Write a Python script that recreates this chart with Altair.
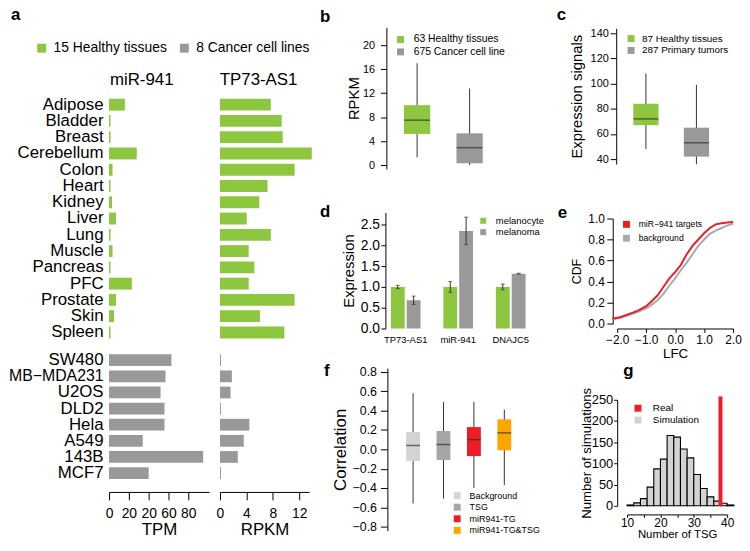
import altair as alt
import pandas as pd

# ---------------- data ----------------
tissues = ["Adipose", "Bladder", "Breast", "Cerebellum", "Colon", "Heart", "Kidney",
           "Liver", "Lung", "Muscle", "Pancreas", "PFC", "Prostate", "Skin", "Spleen"]
mir941_tissue_tpm = [16, 1.5, 1.5, 28, 3.5, 1.5, 3, 7, 1.5, 3.5, 1.5, 23, 7, 5, 1.5]
tp73as1_tissue_rpkm = [7.7, 9.35, 9.5, 13.9, 11.3, 7.2, 5.95, 4.05, 7.7, 4.35, 5.2, 4.35, 11.3, 6.05, 9.75]
cell_lines = ["SW480", "MB\u2212MDA231", "U2OS", "DLD2", "Hela", "A549", "143B", "MCF7"]
mir941_cell_tpm = [63, 57, 52, 56, 56, 34, 95, 40]
tp73as1_cell_rpkm = [0.15, 1.8, 1.6, 0.15, 4.45, 3.6, 2.7, 0.15]
a_groups = ["15 Healthy tissues", "8 Cancer cell lines"]
a_titles = ["miR-941", "TP73-AS1"]

b_groups = ["63 Healthy tissues", "675 Cancer cell line"]
b_low = [1.3, 0.0]
b_q1 = [5.2, 0.3]
b_med = [7.5, 2.9]
b_q3 = [10.0, 5.3]
b_high = [17.0, 12.8]

c_groups = ["87 Healthy tissues", "287 Primary tumors"]
c_low = [48, 36]
c_q1 = [67, 42]
c_med = [72, 53]
c_q3 = [84, 65]
c_high = [108, 99]

d_genes = ["TP73-AS1", "miR-941", "DNAJC5"]
d_conditions = ["melanocyte", "melanoma"]
d_melanocyte = [1.0, 1.0, 1.0]
d_melanocyte_err = [0.04, 0.13, 0.07]
d_melanoma = [0.68, 2.35, 1.32]
d_melanoma_err = [0.10, 0.33, 0.01]

e_series = ["miR\u2212941 targets", "background"]
e_lfc = [-2.17, -1.9, -1.6, -1.3, -1.0, -0.8, -0.6, -0.4, -0.2, 0.0,
         0.2, 0.4, 0.6, 0.8, 1.0, 1.2, 1.4, 1.6, 1.8, 2.0]
e_targets = [0.045, 0.06, 0.09, 0.12, 0.165, 0.215, 0.27, 0.35, 0.43, 0.49,
             0.56, 0.66, 0.74, 0.80, 0.86, 0.91, 0.945, 0.955, 0.962, 0.968]
e_background = [0.04, 0.055, 0.08, 0.11, 0.145, 0.18, 0.225, 0.285, 0.36, 0.43,
                0.51, 0.58, 0.66, 0.74, 0.80, 0.855, 0.885, 0.91, 0.935, 0.95]

f_groups = ["Background", "TSG", "miR941-TG", "miR941-TG&TSG"]
f_low = [-0.56, -0.51, -0.40, -0.37]
f_q1 = [-0.12, -0.11, -0.07, -0.01]
f_med = [0.04, 0.05, 0.10, 0.17]
f_q3 = [0.18, 0.19, 0.23, 0.31]
f_high = [0.58, 0.49, 0.49, 0.41]

g_kinds = ["Real", "Simulation"]
g_bin_start = [10, 12, 14, 16, 18, 20, 22, 24, 26, 28, 30, 32, 34, 36, 38, 40]
g_bin_end = [12, 14, 16, 18, 20, 22, 24, 26, 28, 30, 32, 34, 36, 38, 40, 42]
g_counts = [2, 7, 17, 44, 87, 110, 166, 162, 134, 113, 74, 41, 21, 11, 6, 2]
g_real = [38]
g_real_top = [258]

# ---------------- styling helpers ----------------
GREEN = "#8dc63f"
GRAY = "#999999"
LIGHT = "#d3d3d3"
RED = "#ee1c25"
ORANGE = "#ffa500"
DARK = "#333333"
W, H = 741, 535


def px(v):
    return v - 8


def _axis(orient, offset, values, title, fs, tfs, tick, pad, tpad, fmt, extra):
    d = dict(orient=orient, offset=offset, labelFontSize=fs,
             tickSize=tick, labelPadding=pad, domainColor="black", tickColor="black",
             labelColor="black", grid=False, labelOverlap=False, labelFlush=False,
             labelBound=False, domainWidth=1, tickWidth=1, minExtent=0)
    if values is not None:
        d["values"] = values
    if title:
        d.update(title=title, titleFontSize=tfs, titlePadding=tpad,
                 titleFontWeight="normal", titleColor="black")
    else:
        d.update(title=None)
    if fmt:
        d["format"] = fmt
    d.update(extra)
    return alt.Axis(**d)


def left_axis(x_page, values, title=None, fs=11, tfs=15, tick=6, pad=3, tpad=4, fmt=None, **extra):
    extra.setdefault("titleBaseline", "alphabetic")
    return _axis("left", -(x_page - 8), values, title, fs, tfs, tick, pad, tpad, fmt, extra)


def bottom_axis(y_page, values, title=None, fs=11, tfs=15, tick=6, pad=3, tpad=2, fmt=None, **extra):
    return _axis("bottom", (y_page - 8) - H, values, title, fs, tfs, tick, pad, tpad, fmt, extra)


def leg(x, y, fs, sym, offset, rowpad=1, direction="vertical", colpad=10, stroke=0):
    return alt.Legend(title=None, orient="none", legendX=px(x), legendY=px(y),
                      direction=direction, symbolType="square", symbolSize=sym * sym,
                      symbolStrokeWidth=stroke, labelFontSize=fs, labelOffset=offset,
                      rowPadding=rowpad, columnPadding=colpad, labelColor="black",
                      padding=0, labelLimit=400)


# ---------------- panel a ----------------
a_h = pd.DataFrame({"name": tissues, "mir": mir941_tissue_tpm, "tp": tp73as1_tissue_rpkm,
                    "group": a_groups[0]})
a_c = pd.DataFrame({"name": cell_lines, "mir": mir941_cell_tpm, "tp": tp73as1_cell_rpkm,
                    "group": a_groups[1]})

a_color = alt.Color("group:N", scale=alt.Scale(domain=a_groups, range=[GREEN, GRAY]),
                    legend=leg(35, 39, 14, 9, 5, direction="horizontal", colpad=10))

name_axis = alt.Axis(orient="left", offset=-(110 - 8), domain=False, ticks=False, tickSize=0,
                     labelPadding=6,
                     labelFontSize={"condition": {"test": "indexof(datum.label, 'MDA') >= 0",
                                                  "value": 16}, "value": 17},
                     labelColor="black", title=None,
                     grid=False, labelOverlap=False, labelLimit=300, minExtent=0)

y_h = alt.Y("name:N", sort=tissues,
            scale=alt.Scale(domain=tissues, range=[px(94.8), px(341.2)],
                            paddingInner=0.27, paddingOuter=0.135),
            axis=name_axis)
y_c = alt.Y("name:N", sort=cell_lines,
            scale=alt.Scale(domain=cell_lines, range=[px(352.9), px(483.1)],
                            paddingInner=0.27, paddingOuter=0.135),
            axis=name_axis)
y_h_noax = alt.Y("name:N", sort=tissues,
                 scale=alt.Scale(domain=tissues, range=[px(94.8), px(341.2)],
                                 paddingInner=0.27, paddingOuter=0.135), axis=None)
y_c_noax = alt.Y("name:N", sort=cell_lines,
                 scale=alt.Scale(domain=cell_lines, range=[px(352.9), px(483.1)],
                                 paddingInner=0.27, paddingOuter=0.135), axis=None)

mir_scale = alt.Scale(domain=[0, 101], range=[px(110), px(211)], nice=False, zero=False)
tp_scale = alt.Scale(domain=[0, 13.5], range=[px(222), px(312)], nice=False, zero=False)

mir_axis = bottom_axis(494, [0, 20, 40, 60, 80], "TPM", fs=14, tfs=17, tick=8, pad=7, tpad=1,
                       labelExpr="datum.value == 40 ? '20' : datum.label")
tp_axis = bottom_axis(494, [0, 4, 8, 12], "RPKM", fs=14, tfs=17, tick=8, pad=7, tpad=1)

mir_h = alt.Chart(a_h).mark_bar().encode(
    x=alt.X("mir:Q", scale=mir_scale, axis=None), y=y_h, color=a_color)
mir_c = alt.Chart(a_c).mark_bar().encode(
    x=alt.X("mir:Q", scale=mir_scale, axis=mir_axis), y=y_c, color=a_color)
tp_h = alt.Chart(a_h).mark_bar().encode(
    x=alt.X("tp:Q", scale=tp_scale, axis=None), y=y_h_noax, color=a_color)
tp_c = alt.Chart(a_c).mark_bar().encode(
    x=alt.X("tp:Q", scale=tp_scale, axis=tp_axis), y=y_c_noax, color=a_color)

panel_a = alt.layer(mir_h, mir_c, tp_h, tp_c).resolve_scale(x="independent", y="independent")


# ---------------- box panels (b, c, f) ----------------
def box_panel(groups, low, q1, med, q3, high, colors, x_range, pin, y_dom, y_range, yaxis, legend, box_w):
    df = pd.DataFrame({"group": groups, "low": low, "q1": q1, "med": med, "q3": q3, "high": high})
    xs = alt.X("group:N", sort=groups,
               scale=alt.Scale(domain=groups, range=x_range, paddingInner=pin, paddingOuter=pin / 2),
               axis=None)
    ysc = alt.Scale(domain=y_dom, range=y_range, nice=False, zero=False)
    col = alt.Color("group:N", scale=alt.Scale(domain=groups, range=colors), legend=legend)
    base = alt.Chart(df)
    whisk = base.mark_rule(color=DARK, strokeWidth=1).encode(
        x=xs, y=alt.Y("low:Q", scale=ysc, axis=yaxis), y2="high:Q")
    box = base.mark_bar().encode(
        x=xs, y=alt.Y("q1:Q", scale=ysc, axis=yaxis), y2="q3:Q", color=col)
    medl = base.mark_tick(color=DARK, thickness=1.5, size=box_w).encode(
        x=xs, y=alt.Y("med:Q", scale=ysc, axis=yaxis))
    return alt.layer(whisk, box, medl)


panel_b = box_panel(
    b_groups, b_low, b_q1, b_med, b_q3, b_high, [GREEN, GRAY],
    [px(394.5), px(500.5)], 0.5, [-0.66, 23], [px(168), px(25)],
    left_axis(390, [0, 4, 8, 12, 16, 20], "RPKM", fs=11, tfs=15, tick=6, pad=6, tpad=4),
    leg(399, 32, 10.5, 7, 8, rowpad=1.5), 26)

panel_c = box_panel(
    c_groups, c_low, c_q1, c_med, c_q3, c_high, [GREEN, GRAY],
    [px(626.5), px(728.5)], 0.5, [36.1, 143.9], [px(163), px(26)],
    left_axis(622, [40, 60, 80, 100, 120, 140], "Expression signals", fs=11, tfs=15,
              tick=6, pad=2, tpad=9),
    leg(632, 31.3, 10, 7, 6, rowpad=2), 25)

panel_f = box_panel(
    f_groups, f_low, f_q1, f_med, f_q3, f_high, [LIGHT, "#a6a6a6", RED, ORANGE],
    [px(401.6), px(524.4)], 0.544, [-0.84, 0.84], [px(533), px(369)],
    left_axis(391, [-0.8, -0.6, -0.4, -0.2, 0.0, 0.2, 0.4, 0.6, 0.8], "Correlation",
              fs=12.5, tfs=17, tick=7, pad=4, tpad=7, fmt=".1f"),
    leg(457, 493.2, 9, 7, 8, rowpad=1.7), 14)

# ---------------- panel d ----------------
d_df = pd.DataFrame({
    "gene": d_genes + d_genes,
    "cond": [d_conditions[0]] * 3 + [d_conditions[1]] * 3,
    "value": d_melanocyte + d_melanoma,
    "err": d_melanocyte_err + d_melanoma_err,
})
d_df["lo"] = d_df["value"] - d_df["err"]
d_df["hi"] = d_df["value"] + d_df["err"]

dx = alt.X("gene:N", sort=d_genes,
           scale=alt.Scale(domain=d_genes, range=[px(383), px(542)], paddingInner=0.434,
                           paddingOuter=0.217),
           axis=bottom_axis(329, None, None, fs=9.5, tick=0, pad=6, labelAngle=0,
                            domain=False, ticks=False))
dxo = alt.XOffset("cond:N", sort=d_conditions,
                  scale=alt.Scale(domain=d_conditions, paddingInner=0.125, paddingOuter=0))
dysc = alt.Scale(domain=[0, 2.79], range=[px(329), px(212)], nice=False, zero=False)
dyax = left_axis(389, [0, 0.5, 1.0, 1.5, 2.0, 2.5], "Expression", fs=14, tfs=15, tick=4.5,
                 pad=1.5, tpad=7, fmt=".1f")
d_color = alt.Color("cond:N", scale=alt.Scale(domain=d_conditions, range=[GREEN, GRAY]),
                    legend=leg(483, 215.5, 9.5, 6, 8, rowpad=0.5))
d_base = alt.Chart(d_df)
d_bars = d_base.mark_bar().encode(x=dx, xOffset=dxo, y=alt.Y("value:Q", scale=dysc, axis=dyax),
                                  color=d_color)
d_err = d_base.mark_rule(color=DARK, strokeWidth=1).encode(
    x=dx, xOffset=dxo, y=alt.Y("lo:Q", scale=dysc, axis=dyax), y2="hi:Q")
d_cap_lo = d_base.mark_tick(color=DARK, size=4, thickness=1).encode(
    x=dx, xOffset=dxo, y=alt.Y("lo:Q", scale=dysc, axis=dyax))
d_cap_hi = d_base.mark_tick(color=DARK, size=4, thickness=1).encode(
    x=dx, xOffset=dxo, y=alt.Y("hi:Q", scale=dysc, axis=dyax))
panel_d = alt.layer(d_bars, d_err, d_cap_lo, d_cap_hi)

# ---------------- panel e ----------------
e_bg = pd.DataFrame({"lfc": e_lfc, "cdf": e_background, "series": e_series[1]})
e_tg = pd.DataFrame({"lfc": e_lfc, "cdf": e_targets, "series": e_series[0]})
ex = alt.X("lfc:Q", scale=alt.Scale(domain=[-2, 2], range=[px(623), px(740)], nice=False, zero=False),
           axis=bottom_axis(329, [-2, -1, 0, 1, 2], "LFC", fs=12, tfs=13.5, tick=4, pad=2.5,
                            tpad=1, fmt=".1f"))
ey = alt.Y("cdf:Q", scale=alt.Scale(domain=[0, 1], range=[px(324), px(218)], nice=False, zero=False),
           axis=left_axis(618.5, [0, 0.2, 0.4, 0.6, 0.8, 1.0], "CDF", fs=12, tfs=12.5, tick=6,
                          pad=2.5, tpad=7.6, fmt=".1f"))
e_color = alt.Color("series:N", scale=alt.Scale(domain=e_series, range=[RED, "#aaaaaa"]),
                    legend=leg(628, 219.5, 8.7, 3, 8, rowpad=-10, stroke=4))
panel_e = alt.layer(
    alt.Chart(e_bg).mark_line(strokeWidth=2).encode(x=ex, y=ey, color=e_color),
    alt.Chart(e_tg).mark_line(strokeWidth=2).encode(x=ex, y=ey, color=e_color),
)

# ---------------- panel g ----------------
g_df = pd.DataFrame({"start": g_bin_start, "end": g_bin_end, "count": g_counts, "kind": g_kinds[1]})
g_rdf = pd.DataFrame({"x": g_real, "y0": [0], "y1": g_real_top, "kind": g_kinds[0]})
gxsc = alt.Scale(domain=[10, 40], range=[px(633), px(734)], nice=False, zero=False)
gysc = alt.Scale(domain=[0, 250], range=[px(508), px(401)], nice=False, zero=False)
gxax = bottom_axis(516.7, [10, 15, 20, 25, 30, 35, 40], "Number of TSG", fs=12, tfs=11.5, tick=3,
                   pad=0, tpad=0, labelExpr="datum.value % 10 == 0 ? datum.label : ''")
gyax = left_axis(623, [0, 50, 100, 150, 200, 250], "Number of simulations", fs=13, tfs=13.3,
                 tick=3.5, pad=1, tpad=1)
g_color = alt.Color("kind:N", scale=alt.Scale(domain=g_kinds, range=[RED, LIGHT]),
                    legend=leg(639, 404.5, 10, 7, 10, rowpad=2))
g_hist = alt.Chart(g_df).mark_bar(stroke="black", strokeWidth=1.1).encode(
    x=alt.X("start:Q", scale=gxsc, axis=gxax), x2="end:Q",
    y=alt.Y("count:Q", scale=gysc, axis=gyax), y2=alt.datum(0), color=g_color)
g_rule = alt.Chart(g_rdf).mark_rule(strokeWidth=4).encode(
    x=alt.X("x:Q", scale=gxsc, axis=gxax),
    y=alt.Y("y0:Q", scale=gysc, axis=gyax), y2="y1:Q", color=g_color)
panel_g = alt.layer(g_hist, g_rule)


# ---------------- annotations ----------------
def label(text, x, y, size=17, weight="bold", align="left"):
    return alt.Chart(pd.DataFrame({"t": [text]})).mark_text(
        fontSize=size, fontWeight=weight, align=align, baseline="alphabetic", color="black"
    ).encode(x=alt.value(px(x)), y=alt.value(px(y)), text="t:N")


texts = [
    label("a", 11, 17.5), label("b", 323, 20), label("c", 562, 17.5), label("d", 323, 216),
    label("e", 563, 217), label("f", 327, 377), label("g", 629, 377),
    label(a_titles[0], 143, 83, size=17, weight="normal", align="center"),
    label(a_titles[1], 261, 83, size=17, weight="normal", align="center"),
]

chart = alt.layer(panel_a, panel_b, panel_c, panel_d, panel_e, panel_f, panel_g, *texts).resolve_scale(
    x="independent", y="independent", color="independent"
).properties(
    width=W, height=H, padding=0, autosize=alt.AutoSizeParams(type="none")
).configure(font="Liberation Sans").configure_view(stroke=None)

chart.save("out.html", embed_options={"renderer": "svg", "actions": False})
